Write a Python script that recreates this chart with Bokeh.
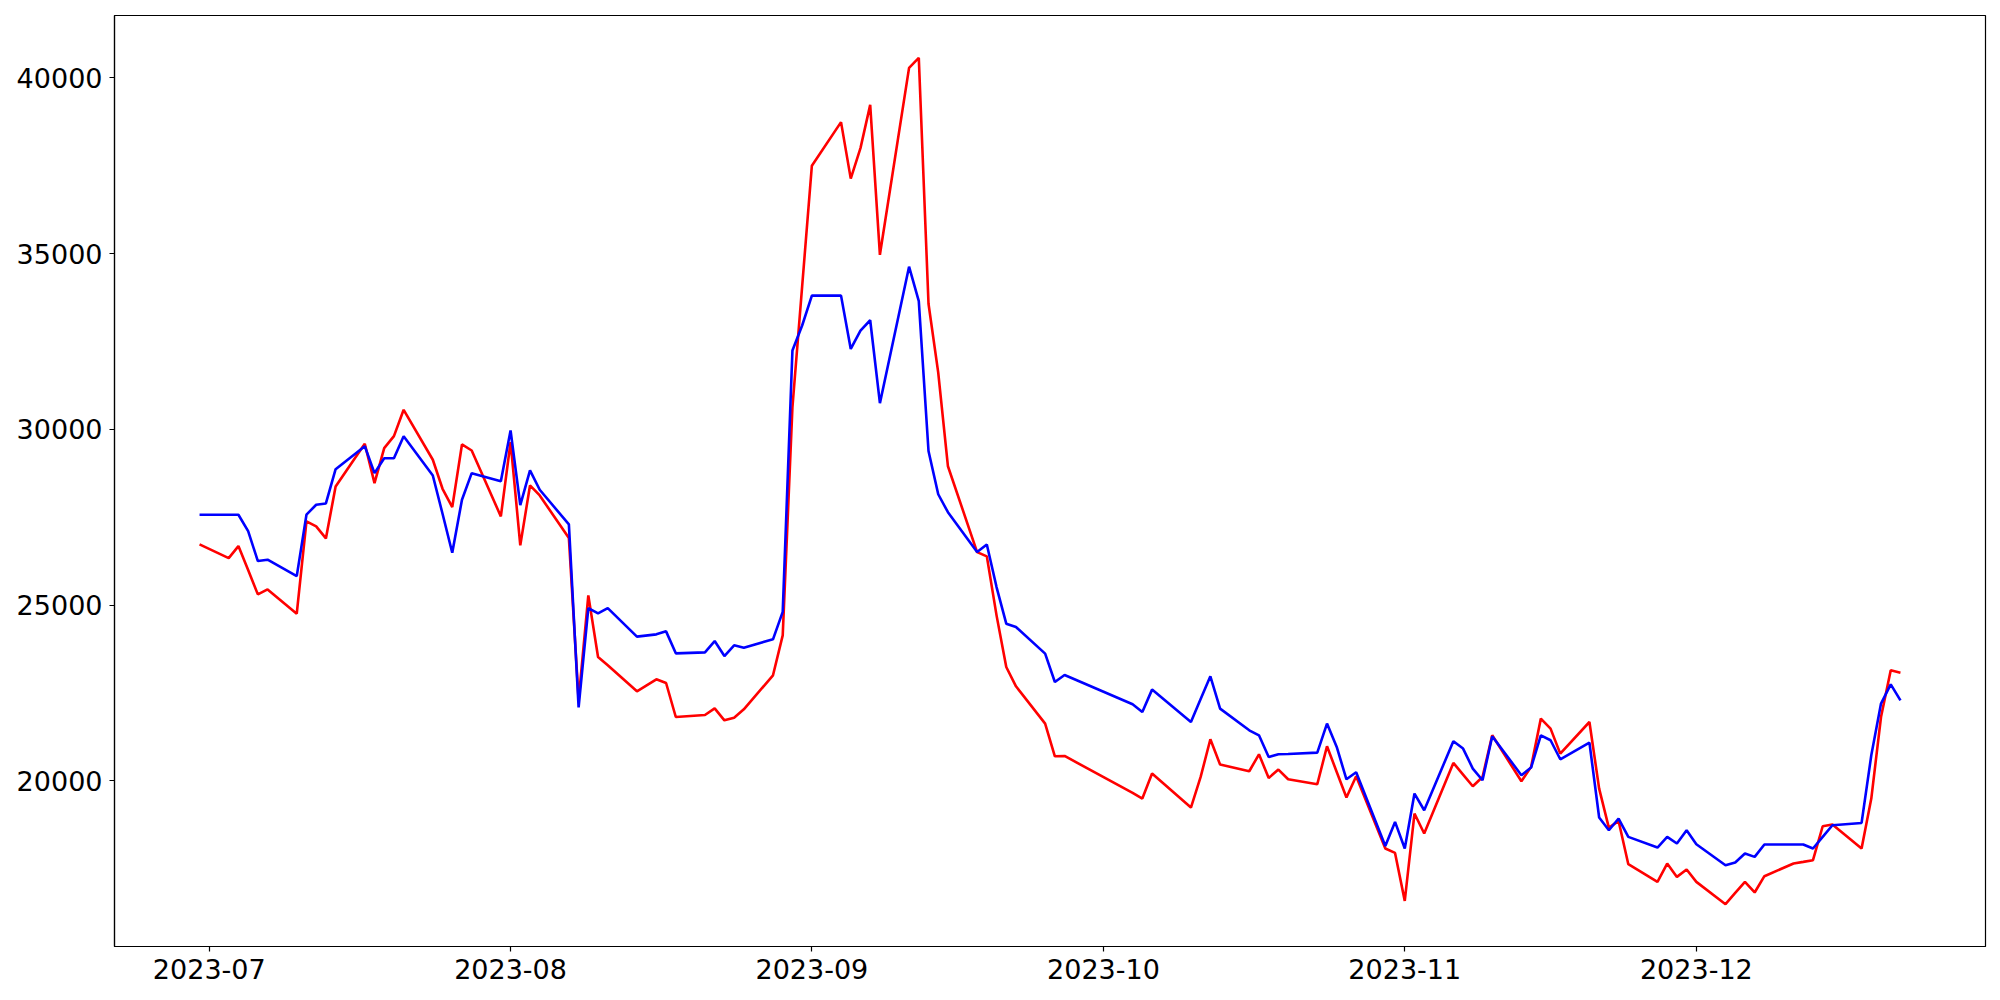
import datetime as dt
import pandas as pd
from bokeh.plotting import figure
from bokeh.models import Range1d, FixedTicker, DatetimeTickFormatter, NumeralTickFormatter, ColumnDataSource
from bokeh.embed import file_html
from bokeh.resources import INLINE

dates = [
    "2023-06-30", "2023-07-03", "2023-07-04", "2023-07-05", "2023-07-06", "2023-07-07",
    "2023-07-10", "2023-07-11", "2023-07-12", "2023-07-13", "2023-07-14",
    "2023-07-17", "2023-07-18", "2023-07-19", "2023-07-20", "2023-07-21",
    "2023-07-24", "2023-07-25", "2023-07-26", "2023-07-27", "2023-07-28",
    "2023-07-31", "2023-08-01", "2023-08-02", "2023-08-03", "2023-08-04",
    "2023-08-07", "2023-08-08", "2023-08-09", "2023-08-10", "2023-08-11",
    "2023-08-14", "2023-08-16", "2023-08-17", "2023-08-18",
    "2023-08-21", "2023-08-22", "2023-08-23", "2023-08-24", "2023-08-25",
    "2023-08-28", "2023-08-29", "2023-08-30", "2023-08-31", "2023-09-01",
    "2023-09-04", "2023-09-05", "2023-09-06", "2023-09-07", "2023-09-08",
    "2023-09-11", "2023-09-12", "2023-09-13", "2023-09-14", "2023-09-15",
    "2023-09-18", "2023-09-19", "2023-09-20", "2023-09-21", "2023-09-22",
    "2023-09-25", "2023-09-26", "2023-09-27",
    "2023-10-04", "2023-10-05", "2023-10-06",
    "2023-10-10", "2023-10-11", "2023-10-12", "2023-10-13",
    "2023-10-16", "2023-10-17", "2023-10-18", "2023-10-19", "2023-10-20",
    "2023-10-23", "2023-10-24", "2023-10-25", "2023-10-26", "2023-10-27",
    "2023-10-30", "2023-10-31", "2023-11-01", "2023-11-02", "2023-11-03",
    "2023-11-06", "2023-11-07", "2023-11-08", "2023-11-09", "2023-11-10",
    "2023-11-13", "2023-11-14", "2023-11-15", "2023-11-16", "2023-11-17",
    "2023-11-20", "2023-11-21", "2023-11-22", "2023-11-23", "2023-11-24",
    "2023-11-27", "2023-11-28", "2023-11-29", "2023-11-30", "2023-12-01",
    "2023-12-04", "2023-12-05", "2023-12-06", "2023-12-07", "2023-12-08",
    "2023-12-11", "2023-12-12", "2023-12-13", "2023-12-14", "2023-12-15",
    "2023-12-18", "2023-12-19", "2023-12-20", "2023-12-21", "2023-12-22",
]

red_values = [
    26728, 26339, 26680, 25998, 25307, 25449,
    24758, 27382, 27240, 26899, 28377,
    29591, 28471, 29466, 29807, 30557,
    29136, 28311, 27789, 29571, 29400,
    27524, 29636, 26700, 28405, 28121,
    26908, 22300, 25278, 23525, 23289,
    22550, 22891, 22786, 21819,
    21876, 22066, 21725, 21801, 22038,
    23005, 24142, 30630, 34070, 37500,
    38740, 37132, 38001, 39230, 34966,
    40284, 40569, 33573, 31614, 28951,
    26510, 26387, 24710, 23241, 22692,
    21632, 20702, 20711,
    19659, 19499, 20210,
    19243, 20114, 21185, 20466,
    20276, 20759, 20085, 20324, 20048,
    19906, 20986, 20256, 19528, 20134,
    18078, 17953, 16589, 19073, 18505,
    20512, 20182, 19849, 20114, 21299,
    19991, 20400, 21773, 21489, 20777,
    21677, 19783, 18665, 18863, 17632,
    17129, 17651, 17271, 17481, 17129,
    16495, 16817, 17129, 16828, 17291,
    17651, 17698, 17746, 18712, 18761,
    18078, 19499, 21819, 23147, 23081,
]

blue_values = [
    27573, 27573, 27573, 27106, 26254, 26293,
    25827, 27573, 27857, 27894, 28869,
    29523, 28755, 29181, 29181, 29807,
    28690, 27601, 26492, 27999, 28755,
    28528, 29969, 27845, 28832, 28283,
    27297, 22090, 24918, 24767, 24918,
    24105, 24170, 24255, 23630,
    23658, 23980, 23553, 23857, 23792,
    24028, 24810, 32245, 32955, 33805,
    33805, 32289, 32811, 33104, 30745,
    34628, 33650, 29386, 28155, 27644,
    26510, 26728, 25515, 24474, 24378,
    23621, 22814, 23013,
    22180, 21962, 22598,
    21678, 22331, 22976, 22058,
    21441, 21299, 20682, 20759, 20767,
    20807, 21632, 20966, 20048, 20247,
    18152, 18835, 18078, 19642, 19167,
    21128, 20921, 20352, 20020, 21271,
    20162, 20381, 21299, 21157, 20617,
    21091, 18960, 18599, 18931, 18409,
    18107, 18409, 18220, 18599, 18201,
    17604, 17680, 17936, 17840, 18192,
    18192, 18192, 18078, 18409, 18741,
    18806, 20730, 22200, 22749, 22294,
]

tick_months = ["2023-07-01", "2023-08-01", "2023-09-01", "2023-10-01", "2023-11-01", "2023-12-01"]
y_ticks = [20000, 25000, 30000, 35000, 40000]

x = pd.to_datetime(dates)
src = ColumnDataSource(dict(x=x, red=red_values, blue=blue_values))

# matplotlib-like 5% margins
xmin, xmax = x.min(), x.max()
xpad = (xmax - xmin) * 0.05
all_vals = red_values + blue_values
ymin, ymax = min(all_vals), max(all_vals)
ypad = (ymax - ymin) * 0.05

p = figure(
    x_axis_type="datetime",
    frame_width=1871, frame_height=931,
    min_border_left=114, min_border_right=7, min_border_top=15, min_border_bottom=46,
    output_backend="svg", toolbar_location=None,
    x_range=Range1d(xmin - xpad, xmax + xpad),
    y_range=Range1d(ymin - ypad, ymax + ypad),
)

p.line("x", "red", source=src, line_color="#ff0000", line_width=2.6)
p.line("x", "blue", source=src, line_color="#0000ff", line_width=2.6)

p.xgrid.visible = False
p.ygrid.visible = False
p.outline_line_color = "black"
p.outline_line_width = 1.2
p.background_fill_color = "white"
p.border_fill_color = "white"

tick_ms = [pd.Timestamp(t).value // 10**6 for t in tick_months]
p.xaxis.ticker = FixedTicker(ticks=tick_ms)
fmt = "%Y-%m"
p.xaxis.formatter = DatetimeTickFormatter(
    milliseconds=fmt, seconds=fmt, minsec=fmt, minutes=fmt, hourmin=fmt,
    hours=fmt, days=fmt, months=fmt, years=fmt)
p.yaxis.ticker = FixedTicker(ticks=y_ticks)
p.yaxis.formatter = NumeralTickFormatter(format="0")

for ax in (p.xaxis[0], p.yaxis[0]):
    ax.major_label_text_font = "DejaVu Sans"
    ax.major_label_text_font_size = "27px"
    ax.major_label_text_color = "black"
    ax.major_tick_line_color = "black"
    ax.major_tick_line_width = 1.2
    ax.major_tick_out = 5
    ax.major_tick_in = 0
    ax.minor_tick_line_color = None
    ax.axis_line_color = "black"
    ax.axis_line_width = 1.2
    ax.major_label_standoff = 7

open("out.html", "w").write(file_html(p, INLINE))
